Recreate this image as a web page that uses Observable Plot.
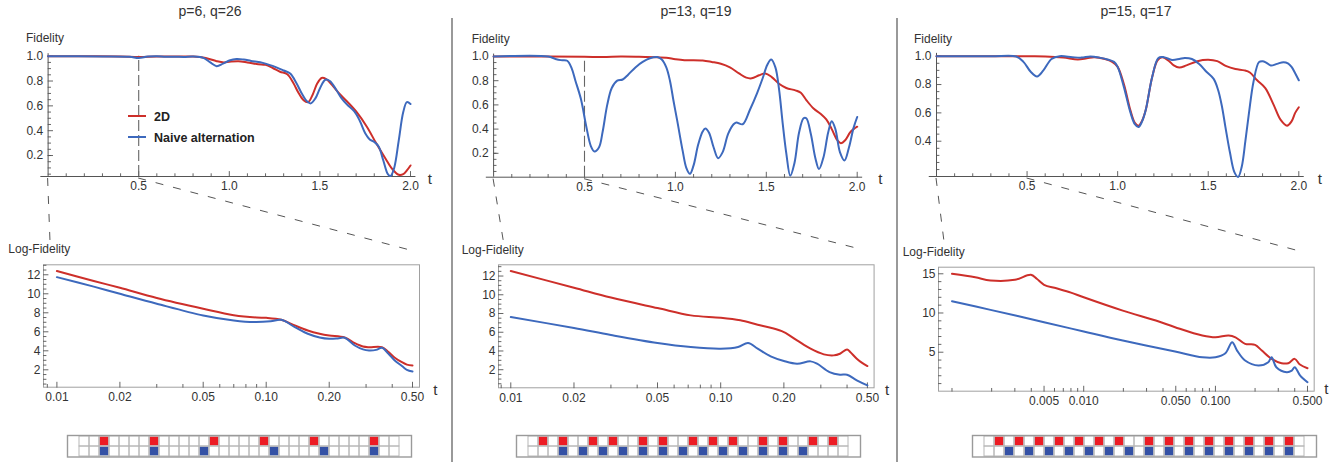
<!DOCTYPE html>
<html><head><meta charset="utf-8">
<script src="https://cdn.jsdelivr.net/npm/d3@7"></script>
<script src="https://cdn.jsdelivr.net/npm/@observablehq/plot@0.6"></script>
<style>
body{margin:0;background:#fff;}
#root{position:relative;width:1343px;height:462px;overflow:hidden;background:#fff;font-family:"Liberation Sans",Arial,sans-serif;}
#root svg{position:absolute;overflow:visible;}
</style></head><body><div id="root"></div>
<script>
// ---------------- DATA ----------------
const titles = ["p=6, q=26", "p=13, q=19", "p=15, q=17"];
const legendNames = ["2D", "Naive alternation"];

// Fidelity vs t (top panels): [t, fidelity]
const p1Fid2D = [[0,1.0],[0.2,1.0],[0.4,0.998],[0.5,0.994],[0.6,0.998],[0.7,0.998],[0.8,0.997],[0.87,0.985],[0.93,0.96],[0.97,0.95],[1.0,0.955],[1.05,0.96],[1.1,0.95],[1.16,0.935],[1.2,0.93],[1.24,0.905],[1.28,0.875],[1.32,0.855],[1.355,0.78],[1.38,0.71],[1.41,0.645],[1.435,0.63],[1.46,0.69],[1.485,0.78],[1.51,0.825],[1.535,0.815],[1.56,0.78],[1.6,0.71],[1.65,0.635],[1.7,0.555],[1.76,0.43],[1.81,0.3],[1.86,0.18],[1.9,0.09],[1.935,0.045],[1.96,0.05],[1.98,0.08],[2.0,0.12]];
const p1FidNaive = [[0,1.0],[0.3,0.998],[0.45,0.995],[0.5,0.986],[0.55,0.997],[0.6,1.0],[0.65,0.995],[0.7,0.996],[0.75,0.994],[0.8,0.997],[0.86,0.985],[0.895,0.95],[0.93,0.92],[0.965,0.94],[1.0,0.965],[1.04,0.978],[1.08,0.973],[1.12,0.962],[1.19,0.944],[1.26,0.91],[1.3,0.885],[1.336,0.86],[1.37,0.785],[1.4,0.70],[1.43,0.635],[1.45,0.62],[1.475,0.66],[1.5,0.74],[1.53,0.81],[1.555,0.80],[1.59,0.73],[1.62,0.66],[1.65,0.61],[1.69,0.555],[1.72,0.48],[1.75,0.38],[1.775,0.33],[1.8,0.31],[1.825,0.27],[1.85,0.16],[1.875,0.05],[1.89,0.035],[1.91,0.1],[1.935,0.32],[1.96,0.55],[1.98,0.63],[2.0,0.615]];

const p2Fid2D = [[0,1.0],[0.3,1.0],[0.5,0.998],[0.6,0.995],[0.7,0.999],[0.8,0.997],[0.9,0.993],[0.95,0.99],[1.0,0.978],[1.05,0.97],[1.15,0.967],[1.2,0.955],[1.25,0.94],[1.3,0.91],[1.35,0.86],[1.39,0.825],[1.42,0.82],[1.46,0.845],[1.495,0.86],[1.53,0.83],[1.57,0.775],[1.61,0.74],[1.66,0.72],[1.69,0.70],[1.72,0.64],[1.76,0.57],[1.8,0.525],[1.83,0.48],[1.86,0.40],[1.89,0.31],[1.91,0.283],[1.935,0.31],[1.96,0.37],[1.98,0.40],[2.0,0.42]];
const p2FidNaive = [[0,1.0],[0.3,1.0],[0.34,0.98],[0.37,0.97],[0.405,0.965],[0.43,0.9],[0.45,0.8],[0.48,0.65],[0.51,0.42],[0.535,0.26],[0.555,0.215],[0.58,0.25],[0.6,0.38],[0.625,0.6],[0.65,0.74],[0.68,0.8],[0.71,0.81],[0.74,0.85],[0.78,0.91],[0.82,0.955],[0.86,0.985],[0.9,0.995],[0.925,0.975],[0.95,0.91],[0.97,0.8],[0.99,0.63],[1.01,0.47],[1.04,0.22],[1.06,0.08],[1.08,0.03],[1.1,0.1],[1.125,0.27],[1.15,0.38],[1.165,0.405],[1.185,0.37],[1.21,0.25],[1.235,0.16],[1.26,0.21],[1.29,0.36],[1.32,0.44],[1.335,0.455],[1.37,0.44],[1.41,0.56],[1.45,0.7],[1.48,0.82],[1.505,0.93],[1.527,0.975],[1.55,0.91],[1.57,0.73],[1.59,0.45],[1.61,0.2],[1.632,0.015],[1.655,0.12],[1.68,0.37],[1.705,0.49],[1.72,0.49],[1.745,0.36],[1.77,0.16],[1.79,0.07],[1.815,0.17],[1.84,0.37],[1.86,0.465],[1.88,0.4],[1.905,0.21],[1.93,0.14],[1.955,0.25],[1.98,0.41],[2.0,0.50]];

const p3Fid2D = [[0,1.0],[0.5,0.999],[0.6,0.998],[0.7,0.99],[0.78,0.976],[0.83,0.985],[0.87,0.993],[0.93,0.98],[0.97,0.96],[1.0,0.925],[1.035,0.8],[1.07,0.62],[1.095,0.53],[1.115,0.51],[1.135,0.545],[1.155,0.62],[1.19,0.85],[1.22,0.97],[1.245,0.993],[1.28,0.97],[1.31,0.935],[1.34,0.92],[1.38,0.935],[1.44,0.965],[1.5,0.975],[1.55,0.965],[1.6,0.93],[1.65,0.91],[1.7,0.9],[1.73,0.885],[1.77,0.83],[1.815,0.775],[1.86,0.66],[1.9,0.55],[1.935,0.51],[1.96,0.54],[1.98,0.6],[2.0,0.64]];
const p3FidNaive = [[0,1.0],[0.3,0.999],[0.44,0.998],[0.48,0.96],[0.52,0.89],[0.555,0.857],[0.59,0.9],[0.635,0.98],[0.68,1.0],[0.75,0.993],[0.8,0.99],[0.85,0.998],[0.9,0.99],[0.95,0.975],[0.98,0.96],[1.0,0.925],[1.035,0.78],[1.07,0.605],[1.095,0.52],[1.115,0.5],[1.135,0.54],[1.155,0.62],[1.19,0.85],[1.225,0.988],[1.255,0.993],[1.3,0.974],[1.34,0.98],[1.37,0.988],[1.41,0.98],[1.45,0.945],[1.49,0.89],[1.53,0.84],[1.555,0.76],[1.575,0.65],[1.595,0.5],[1.62,0.32],[1.645,0.18],[1.665,0.148],[1.685,0.22],[1.705,0.4],[1.725,0.6],[1.75,0.82],[1.78,0.958],[1.8,0.965],[1.82,0.955],[1.845,0.934],[1.88,0.946],[1.915,0.958],[1.94,0.95],[1.96,0.925],[1.98,0.88],[2.0,0.83]];

// Log-Fidelity vs t (bottom panels): [t, value]
const p1Log2D = [[0.01,12.39],[0.015,11.35],[0.02,10.63],[0.03,9.55],[0.05,8.42],[0.07,7.75],[0.09,7.5],[0.1,7.47],[0.118,7.26],[0.137,6.67],[0.158,6.14],[0.18,5.8],[0.2,5.61],[0.237,5.4],[0.265,4.8],[0.29,4.45],[0.31,4.38],[0.357,4.38],[0.384,3.86],[0.41,3.3],[0.445,2.8],[0.47,2.55],[0.5,2.46]];
const p1LogNaive = [[0.01,11.75],[0.015,10.75],[0.02,10.0],[0.03,8.95],[0.05,7.72],[0.07,7.19],[0.088,7.02],[0.105,7.1],[0.118,7.26],[0.137,6.49],[0.158,5.79],[0.18,5.4],[0.2,5.26],[0.22,5.3],[0.237,5.37],[0.265,4.56],[0.29,4.15],[0.31,4.04],[0.335,4.1],[0.357,4.32],[0.384,3.68],[0.41,3.0],[0.445,2.4],[0.47,2.0],[0.5,1.82]];

const p2Log2D = [[0.01,12.53],[0.02,10.75],[0.03,9.7],[0.05,8.58],[0.072,7.8],[0.1,7.55],[0.124,7.27],[0.15,6.8],[0.173,6.48],[0.2,6.02],[0.231,5.13],[0.268,4.24],[0.31,3.64],[0.345,3.53],[0.37,3.7],[0.4,4.17],[0.414,3.89],[0.445,3.17],[0.47,2.75],[0.5,2.39]];
const p2LogNaive = [[0.01,7.62],[0.02,6.45],[0.03,5.7],[0.05,4.85],[0.072,4.42],[0.1,4.24],[0.121,4.42],[0.135,4.85],[0.15,4.24],[0.173,3.42],[0.2,2.93],[0.231,2.64],[0.268,2.89],[0.288,2.64],[0.33,1.75],[0.37,1.47],[0.4,1.47],[0.445,0.86],[0.5,0.33]];

const p3Log2D = [[0.001,15.0],[0.0015,14.55],[0.00196,14.15],[0.003,14.23],[0.00397,14.87],[0.0044,14.36],[0.005,13.6],[0.0062,13.15],[0.008,12.6],[0.01,12.0],[0.0198,10.3],[0.0353,9.04],[0.0494,8.19],[0.0795,7.13],[0.1,6.9],[0.126,7.13],[0.142,6.9],[0.168,6.06],[0.2,5.94],[0.225,5.21],[0.267,4.15],[0.318,3.6],[0.357,3.6],[0.4,4.15],[0.438,3.43],[0.5,2.96]];
const p3LogNaive = [[0.001,11.51],[0.00196,10.4],[0.005,8.83],[0.01,7.64],[0.0198,6.49],[0.0494,5.09],[0.0795,4.36],[0.1,4.36],[0.119,4.87],[0.134,6.28],[0.146,5.21],[0.168,3.94],[0.212,3.3],[0.252,3.72],[0.267,4.36],[0.29,3.09],[0.348,2.45],[0.38,2.66],[0.4,3.09],[0.44,2.02],[0.5,1.17]];

// Pulse-sequence grids: column indices (0..31) of filled cells
const nCols = 32;
const p1GridRed = [2,7,13,18,23,29];
const p1GridBlue = [2,7,12,19,24,29];
const p2GridRed = [1,3,6,8,11,13,16,18,20,23,25,28,30];
const p2GridBlue = [3,5,7,9,11,13,15,17,19,21,23,25,27];
const p3GridRed = [1,3,5,7,9,11,13,16,18,20,22,24,26,28,30];
const p3GridBlue = [2,4,6,8,10,12,14,16,18,20,22,24,26,28,30];

// Ticks
const topXMajor = [0.5,1.0,1.5,2.0];
const topXMinor = [0.1,0.2,0.3,0.4,0.6,0.7,0.8,0.9,1.1,1.2,1.3,1.4,1.6,1.7,1.8,1.9];
const topYMajor12 = [0.2,0.4,0.6,0.8,1.0];
const topYMajor3 = [0.4,0.6,0.8,1.0];
const topYMinor = [0.05,0.1,0.15,0.2,0.25,0.3,0.35,0.45,0.5,0.55,0.65,0.7,0.75,0.85,0.9,0.95];
const logXMajor12 = [0.01,0.02,0.05,0.1,0.2,0.5];
const logXLabels12 = ["0.01","0.02","0.05","0.10","0.20","0.50"];
const logXMinor12 = [0.009,0.03,0.04,0.06,0.07,0.08,0.09,0.3,0.4];
const logXMajor3 = [0.005,0.01,0.05,0.1,0.5];
const logXLabels3 = ["0.005","0.010","0.050","0.100","0.500"];
const logXMinor3 = [0.001,0.002,0.003,0.004,0.006,0.007,0.008,0.009,0.02,0.03,0.04,0.06,0.07,0.08,0.09,0.2,0.3,0.4];
const logYMajor12 = [2,4,6,8,10,12];
const logYMinor12 = [0.5,1,1.5,2.5,3,3.5,4.5,5,5.5,6.5,7,7.5,8.5,9,9.5,10.5,11,11.5,12.5,13];
const logYMajor3 = [5,10,15];
const logYMinor3 = [1,2,3,4,6,7,8,9,11,12,13,14];

// ---------------- STYLE ----------------
const RED = "#cd2f2a", BLUE = "#3d69bd";
const GRED = "#ec1c24", GBLUE = "#3451a5";
const AX = "#555", TXT = "#333", FRAME = "#a0a0a0";
const FONT = "'Liberation Sans', Arial, sans-serif";
const LW = 2;
const root = document.getElementById("root");

const tickShape = {draw(ctx, l) { ctx.moveTo(0, 0); ctx.lineTo(0, -l); }};
const vx = (vals, y, len, stroke=AX) => Plot.vector(vals, {x: d => d, y, length: len, rotate: 0, anchor: "start", shape: tickShape, stroke, strokeWidth: 0.9});
const vy = (vals, x, len, stroke=AX) => Plot.vector(vals, {x, y: d => d, length: len, rotate: 90, anchor: "start", shape: tickShape, stroke, strokeWidth: 0.9});

function place(el, left, top) { el.style.left = left + "px"; el.style.top = top + "px"; root.appendChild(el); return el; }
function label(txt, x, y, o = {}) {
  const d = document.createElement("div");
  d.textContent = txt;
  const tx = o.anchor === "middle" ? "-50%" : o.anchor === "end" ? "-100%" : "0";
  Object.assign(d.style, {position: "absolute", left: x + "px", top: y + "px", fontSize: (o.size || 12) + "px",
    fontWeight: o.bold ? "bold" : "normal", color: o.color || TXT, whiteSpace: "nowrap", lineHeight: "1",
    fontFamily: FONT, transform: `translate(${tx}, -50%)`});
  root.appendChild(d);
}

// ---------------- TOP PLOTS ----------------
function topPlot(P) {
  const W = 445, H = 200;
  const plot = Plot.plot({
    width: W, height: H,
    marginLeft: P.x0 - P.left, marginRight: W - (P.x2 - P.left),
    marginTop: P.y1, marginBottom: H - P.yAx,
    x: {domain: [0, 2], axis: null},
    y: {domain: [P.yMin, 1], axis: null},
    style: {fontFamily: FONT, background: "transparent", overflow: "visible"},
    marks: [
      Plot.ruleY([P.yMin], {x1: -0.04, x2: 2.03, stroke: AX, strokeWidth: 1}),
      Plot.ruleX([0], {y1: P.yMin, y2: 1.02, stroke: AX, strokeWidth: 1}),
      vx(topXMajor, P.yMin, 5), vx(topXMinor, P.yMin, 2.8),
      vy(P.yMajor, 0, 4.5), vy(topYMinor.filter(v => v > P.yMin), 0, 2.5),
      Plot.text(topXMajor, {x: d => d, y: P.yMin, text: d => d.toFixed(1), dy: 10, fontSize: 12, fill: TXT}),
      Plot.text(P.yMajor, {x: 0, y: d => d, text: d => d.toFixed(1), textAnchor: "end", dx: -5, fontSize: 12, fill: TXT}),
      P.dash ? Plot.ruleX([0.5], {y1: P.yMin, y2: 1.0, stroke: "#666", strokeWidth: 1.1, strokeDasharray: "11,4"}) : null,
      Plot.line(P.red, {x: "0", y: "1", stroke: RED, strokeWidth: LW, curve: "catmull-rom"}),
      Plot.line(P.blue, {x: "0", y: "1", stroke: BLUE, strokeWidth: LW, curve: "catmull-rom"})
    ]
  });
  place(plot, P.left, 0);
  return plot;
}

// ---------------- LOWER PLOTS ----------------
function lowPlot(L) {
  const ml = 45, mr = 35, top = 230, H = 180;
  const W = (L.fx1 - L.fx0) + ml + mr;
  const plot = Plot.plot({
    width: W, height: H,
    marginLeft: ml, marginRight: mr, marginTop: L.fy0 - top, marginBottom: H - (L.fy1 - top),
    x: {type: "log", domain: L.xDom, axis: null},
    y: {domain: L.yDom, axis: null},
    style: {fontFamily: FONT, background: "transparent", overflow: "visible"},
    marks: [
      Plot.frame({stroke: FRAME, strokeWidth: 1}),
      vx(L.xMajor, L.yDom[0], 5), vx(L.xMinor, L.yDom[0], 2.8),
      vy(L.yMajor, L.xDom[0], 4.5), vy(L.yMinor.filter(v => v > L.yDom[0] && v < L.yDom[1]), L.xDom[0], 2.5),
      Plot.text(L.xMajor, {x: d => d, y: L.yDom[0], text: (d, i) => L.xLabels[i], dy: 10, fontSize: 12, fill: TXT}),
      Plot.text(L.yMajor, {x: L.xDom[0], y: d => d, text: d => String(d), textAnchor: "end", dx: -3, fontSize: 12, fill: TXT}),
      Plot.line(L.red, {x: "0", y: "1", stroke: RED, strokeWidth: LW, curve: "catmull-rom"}),
      Plot.line(L.blue, {x: "0", y: "1", stroke: BLUE, strokeWidth: LW, curve: "catmull-rom"})
    ]
  });
  place(plot, L.fx0 - ml, top);
  return plot;
}

// ---------------- GRIDS ----------------
function gridPlot(red, blue, left, top) {
  const cols = d3.range(nCols);
  const cells = cols.flatMap(c => [{c, r: 0}, {c, r: 1}]);
  const reds = red.map(c => ({c, r: 0})), blues = blue.map(c => ({c, r: 1}));
  const plot = Plot.plot({
    width: 344, height: 21.5, margin: 0,
    x: {type: "band", domain: cols, padding: 0, axis: null},
    y: {type: "band", domain: [0, 1], padding: 0, axis: null},
    style: {background: "transparent", overflow: "visible"},
    marks: [
      Plot.cell(cells, {x: "c", y: "r", fill: "white"}),
      Plot.cell(reds, {x: "c", y: "r", fill: GRED, inset: 0.5}),
      Plot.cell(blues, {x: "c", y: "r", fill: GBLUE, inset: 0.5}),
      Plot.cell(cells, {x: "c", y: "r", fill: "none", stroke: "#b8b8b8", strokeWidth: 1}),
      Plot.frame({stroke: "#9a9a9a", strokeWidth: 1.4})
    ]
  });
  place(plot, left, top);
}

const panels = [
  {top: {left: 0, x0: 47.6, x2: 410, y1: 55.7, yAx: 176, yMin: 0.031, yMajor: topYMajor12, dash: true, red: p1Fid2D, blue: p1FidNaive},
   low: {fx0: 43.3, fx1: 419.3, fy0: 264.3, fy1: 386.7, xDom: [0.00863, 0.54], yDom: [0.17, 13.05], xMajor: logXMajor12, xLabels: logXLabels12, xMinor: logXMinor12, yMajor: logYMajor12, yMinor: logYMinor12, red: p1Log2D, blue: p1LogNaive},
   grid: [p1GridRed, p1GridBlue, 67, 435], title: [210, 11], fid: [26, 38], logf: [8.3, 249], tTop: [427.7, 178], tLow: [433.3, 389]},
  {top: {left: 450, x0: 493.1, x2: 856.7, y1: 56, yAx: 176.7, yMin: 0.0025, yMajor: topYMajor12, dash: true, red: p2Fid2D, blue: p2FidNaive},
   low: {fx0: 497.7, fx1: 873.3, fy0: 264.3, fy1: 387.3, xDom: [0.00874, 0.538], yDom: [0.07, 13.2], xMajor: logXMajor12, xLabels: logXLabels12, xMinor: logXMinor12, yMajor: logYMajor12, yMinor: logYMinor12, red: p2Log2D, blue: p2LogNaive},
   grid: [p2GridRed, p2GridBlue, 515.7, 435], title: [696, 11], fid: [471.7, 39], logf: [461.7, 250], tTop: [878.3, 178], tLow: [885, 389]},
  {top: {left: 893, x0: 936, x2: 1298.3, y1: 55.7, yAx: 176, yMin: 0.151, yMajor: topYMajor3, dash: false, red: p3Fid2D, blue: p3FidNaive},
   low: {fx0: 938.3, fx1: 1314, fy0: 266.7, fy1: 390.7, xDom: [0.00079, 0.562], yDom: [0.03, 15.84], xMajor: logXMajor3, xLabels: logXLabels3, xMinor: logXMinor3, yMajor: logYMajor3, yMinor: logYMinor3, red: p3Log2D, blue: p3LogNaive},
   grid: [p3GridRed, p3GridBlue, 972.3, 435], title: [1136, 11], fid: [914, 39], logf: [902.7, 252], tTop: [1317.7, 178], tLow: [1324.3, 388]}
];

const connectors = [];
panels.forEach((p, i) => {
  const tp = topPlot(p.top);
  const lp = lowPlot(p.low);
  gridPlot(...p.grid);
  label(titles[i], p.title[0], p.title[1], {anchor: "middle", size: 14});
  label("Fidelity", p.fid[0], p.fid[1], {size: 12});
  label("Log-Fidelity", p.logf[0], p.logf[1], {size: 12});
  label("t", p.tTop[0], p.tTop[1], {size: 15});
  label("t", p.tLow[0], p.tLow[1], {size: 15});
  // connector geometry from the plots' own scales
  const sx = tp.scale("x"), sy = tp.scale("y");
  const xa = p.top.left + sx.apply(0), xb = p.top.left + sx.apply(0.5), ya = sy.apply(p.top.yMin);
  connectors.push([[xa, ya + 2], [p.low.fx0 + 7, p.low.fy0 - 15]]);
  connectors.push([[xb, ya + 2], [p.low.fx1 - 12, p.low.fy0 - 15]]);
});

// Legend (panel 1)
function swatch(color, x, y) {
  const d = document.createElement("div");
  Object.assign(d.style, {position: "absolute", left: x + "px", top: (y - 1) + "px", width: "18px", height: "2px", background: color});
  root.appendChild(d);
}
swatch(RED, 127.7, 115.7); label(legendNames[0], 154, 116.5, {bold: true, size: 12.5, color: "#222"});
swatch(BLUE, 127.7, 136.7); label(legendNames[1], 154, 137.5, {bold: true, size: 12.5, color: "#222"});

// Overlay: separators + dashed zoom connectors
const ov = d3.create("svg").attr("width", 1343).attr("height", 462).style("left", "0px").style("top", "0px").style("pointer-events", "none");
[452, 897].forEach(x => ov.append("line").attr("x1", x).attr("x2", x).attr("y1", 18).attr("y2", 462).attr("stroke", "#555").attr("stroke-width", 1.2));
connectors.forEach(([a, b]) => ov.append("line").attr("x1", a[0]).attr("y1", a[1]).attr("x2", b[0]).attr("y2", b[1])
  .attr("stroke", "#555").attr("stroke-width", 1).attr("stroke-dasharray", "8,10"));
root.appendChild(ov.node());
</script></body></html>
